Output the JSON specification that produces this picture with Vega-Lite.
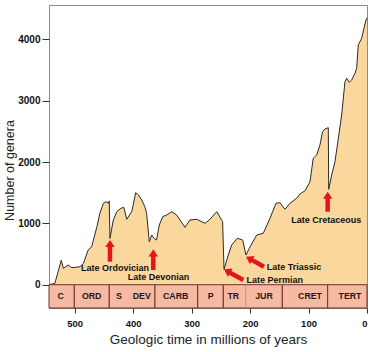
{
  "$schema": "https://vega.github.io/schema/vega-lite/v6.json",
  "width": 318,
  "height": 303,
  "autosize": {"type": "none"},
  "padding": {"left": 49, "top": 5, "right": 3, "bottom": 44},
  "background": "white",
  "config": {"view": {"stroke": "#8c8c8c", "strokeWidth": 1}, "font": "Liberation Sans"},
  "datasets": {
    "genera": [
      {"age": 544, "genera": 0}, {"age": 534, "genera": 20}, {"age": 523, "genera": 400},
      {"age": 519.5, "genera": 267}, {"age": 511, "genera": 321}, {"age": 505, "genera": 277},
      {"age": 498, "genera": 284}, {"age": 491, "genera": 293}, {"age": 485, "genera": 349},
      {"age": 477, "genera": 566}, {"age": 471, "genera": 620}, {"age": 462, "genera": 946},
      {"age": 457, "genera": 1164}, {"age": 451, "genera": 1327}, {"age": 446.5, "genera": 1353},
      {"age": 442.6, "genera": 1327}, {"age": 441, "genera": 1365}, {"age": 439.7, "genera": 756},
      {"age": 434, "genera": 1055}, {"age": 428, "genera": 1190}, {"age": 421, "genera": 1245},
      {"age": 416, "genera": 1262}, {"age": 411, "genera": 1066}, {"age": 402.5, "genera": 1190},
      {"age": 400, "genera": 1299}, {"age": 395.7, "genera": 1500}, {"age": 391, "genera": 1462},
      {"age": 385.4, "genera": 1381}, {"age": 380, "genera": 1272}, {"age": 377, "genera": 1164},
      {"age": 372.4, "genera": 701}, {"age": 368.3, "genera": 810}, {"age": 364.4, "genera": 756},
      {"age": 360, "genera": 729}, {"age": 355.3, "genera": 973}, {"age": 349.5, "genera": 1109},
      {"age": 342.7, "genera": 1136}, {"age": 334, "genera": 1190}, {"age": 325.6, "genera": 1136},
      {"age": 311.4, "genera": 936}, {"age": 302.8, "genera": 1055}, {"age": 291.3, "genera": 1066},
      {"age": 277.2, "genera": 1001}, {"age": 269.8, "genera": 1055}, {"age": 257, "genera": 1190},
      {"age": 247, "genera": 1027}, {"age": 244.6, "genera": 251}, {"age": 237.3, "genera": 484},
      {"age": 231.5, "genera": 647}, {"age": 222, "genera": 756}, {"age": 212.7, "genera": 729},
      {"age": 207, "genera": 484}, {"age": 201.4, "genera": 593}, {"age": 188.7, "genera": 810},
      {"age": 177.4, "genera": 838}, {"age": 166, "genera": 1082}, {"age": 155.7, "genera": 1327},
      {"age": 149, "genera": 1337}, {"age": 140.3, "genera": 1229}, {"age": 131.8, "genera": 1327},
      {"age": 120.3, "genera": 1409}, {"age": 114.6, "genera": 1479}, {"age": 106, "genera": 1532},
      {"age": 97.5, "genera": 1680}, {"age": 92, "genera": 2061}, {"age": 86, "genera": 2114},
      {"age": 80.5, "genera": 2277}, {"age": 76, "genera": 2494}, {"age": 72, "genera": 2538},
      {"age": 66.2, "genera": 2560}, {"age": 65.5, "genera": 1555}, {"age": 60.4, "genera": 1788},
      {"age": 54.8, "genera": 2005}, {"age": 49, "genera": 2387}, {"age": 43.4, "genera": 2767},
      {"age": 37.7, "genera": 3309}, {"age": 34.8, "genera": 3365}, {"age": 30.3, "genera": 3300},
      {"age": 26.2, "genera": 3337}, {"age": 20.6, "genera": 3446}, {"age": 17.7, "genera": 3528},
      {"age": 14.9, "genera": 3908}, {"age": 9.1, "genera": 4017}, {"age": 5.2, "genera": 4180},
      {"age": 1.7, "genera": 4315}, {"age": 0, "genera": 4350}
    ],
    "periods": [
      {"age": 544, "age2": 500.7}, {"age": 500.7, "age2": 440.9}, {"age": 440.9, "age2": 362.7},
      {"age": 362.7, "age2": 289.6}, {"age": 289.6, "age2": 245.8}, {"age": 245.8, "age2": 144.9},
      {"age": 144.9, "age2": 67.3}, {"age": 67.3, "age2": 0}
    ],
    "periodLabels": [
      {"label": "C", "age": 524}, {"label": "ORD", "age": 471}, {"label": "S", "age": 424.3},
      {"label": "DEV", "age": 385.4}, {"label": "CARB", "age": 327.3}, {"label": "P", "age": 267.4},
      {"label": "TR", "age": 228.7}, {"label": "JUR", "age": 176.2}, {"label": "CRET", "age": 97.5},
      {"label": "TERT", "age": 29.1}
    ],
    "shafts": [
      {"event": "Late Ordovician", "age": 439.7, "genera": 628, "age2": 439.7, "genera2": 375},
      {"event": "Late Devonian", "age": 365.6, "genera": 479, "age2": 365.6, "genera2": 240},
      {"event": "Late Cretaceous", "age": 67.3, "genera": 1418, "age2": 67.3, "genera2": 1190},
      {"event": "Late Permian", "age": 235.8, "genera": 204, "age2": 211.6, "genera2": 77},
      {"event": "Late Triassic", "age": 198.1, "genera": 409, "age2": 176.2, "genera2": 293}
    ],
    "heads": [
      {"event": "Late Ordovician", "dir": "up", "age": 439.7, "genera": 729},
      {"event": "Late Devonian", "dir": "up", "age": 365.6, "genera": 577},
      {"event": "Late Cretaceous", "dir": "up", "age": 67.3, "genera": 1516},
      {"event": "Late Permian", "dir": "up-left", "age": 244.6, "genera": 251},
      {"event": "Late Triassic", "dir": "up-left", "age": 207.0, "genera": 456}
    ],
    "notes": [
      {"label": "Late Ordovician", "age": 431, "genera": 277},
      {"label": "Late Devonian", "age": 356.7, "genera": 121},
      {"label": "Late Triassic", "age": 124.9, "genera": 293},
      {"label": "Late Permian", "age": 157.9, "genera": 82},
      {"label": "Late Cretaceous", "age": 69.7, "genera": 1055}
    ]
  },
  "encoding": {
    "x": {
      "field": "age", "type": "quantitative",
      "title": "Geologic time in millions of years",
      "scale": {"domain": [0, 544], "reverse": true, "nice": false, "zero": false},
      "axis": {
        "values": [0, 100, 200, 300, 400, 500], "format": "d", "grid": false, "domain": false,
        "tickSize": 5, "tickColor": "#333", "labelFont": "Liberation Sans", "labelFontWeight": "bold",
        "labelFontSize": 9.5, "labelColor": "#111", "labelPadding": 5,
        "titleFont": "Liberation Sans", "titleFontWeight": "normal", "titleFontSize": 13.5,
        "titleColor": "#222", "titlePadding": 5
      }
    }
  },
  "layer": [
    {
      "data": {"name": "genera"},
      "mark": {"type": "area", "color": "#F9D79D", "opacity": 1, "line": {"color": "#2a2a2a", "strokeWidth": 1}},
      "encoding": {
        "y": {
          "field": "genera", "type": "quantitative",
          "title": "Number of genera",
          "scale": {"domain": [-380, 4560], "nice": false, "zero": false},
          "axis": {
            "values": [0, 500, 1000, 1500, 2000, 2500, 3000, 3500, 4000, 4500], "format": "d",
            "labelExpr": "datum.value % 1000 == 0 ? datum.label : ''",
            "grid": false, "domain": false, "tickSize": 7, "tickColor": "#333",
            "labelFont": "Liberation Sans", "labelFontWeight": "bold", "labelFontSize": 10,
            "labelColor": "#111", "labelPadding": 2,
            "titleFont": "Liberation Sans", "titleFontWeight": "normal", "titleFontSize": 12.5,
            "titleColor": "#222", "titleX": -36, "titleY": 165, "titleBaseline": "alphabetic"
          }
        },
        "y2": {"datum": 0}
      }
    },
    {
      "data": {"name": "periods"},
      "mark": {"type": "rect", "fill": "#F6B9A2", "stroke": "#6e3328", "strokeWidth": 1},
      "encoding": {
        "x2": {"field": "age2"},
        "y": {"datum": 0, "type": "quantitative", "title": "Number of genera", "scale": {"domain": [-380, 4560], "nice": false, "zero": false}},
        "y2": {"datum": -380}
      }
    },
    {
      "data": {"values": [{"age": 207.5}]},
      "mark": {"type": "rule", "color": "#c8907e", "strokeWidth": 1},
      "encoding": {
        "y": {"datum": -2, "type": "quantitative", "title": "Number of genera", "scale": {"domain": [-380, 4560], "nice": false, "zero": false}},
        "y2": {"datum": -378}
      }
    },
    {
      "data": {"name": "periodLabels"},
      "mark": {"type": "text", "font": "Liberation Sans", "fontWeight": "bold", "fontSize": 8.8, "color": "#1a1a1a", "baseline": "middle", "align": "center"},
      "encoding": {
        "y": {"datum": -189, "type": "quantitative", "title": "Number of genera", "scale": {"domain": [-380, 4560], "nice": false, "zero": false}},
        "text": {"field": "label"}
      }
    },
    {
      "data": {"name": "shafts"},
      "mark": {"type": "rule", "color": "#E3161C", "strokeWidth": 4.5, "strokeCap": "butt"},
      "encoding": {
        "y": {"field": "genera", "type": "quantitative", "title": "Number of genera", "scale": {"domain": [-380, 4560], "nice": false, "zero": false}},
        "x2": {"field": "age2"},
        "y2": {"field": "genera2"}
      }
    },
    {
      "data": {"name": "heads"},
      "transform": [{"filter": "datum.dir == 'up'"}],
      "mark": {"type": "point", "shape": "M0,0L1,1.5L-1,1.5Z", "filled": true, "color": "#E3161C", "opacity": 1, "size": 90, "angle": 0},
      "encoding": {
        "y": {"field": "genera", "type": "quantitative", "title": "Number of genera", "scale": {"domain": [-380, 4560], "nice": false, "zero": false}}
      }
    },
    {
      "data": {"name": "heads"},
      "transform": [{"filter": "datum.dir == 'up-left'"}],
      "mark": {"type": "point", "shape": "M0,0L1,1.5L-1,1.5Z", "filled": true, "color": "#E3161C", "opacity": 1, "size": 90, "angle": 299},
      "encoding": {
        "y": {"field": "genera", "type": "quantitative", "title": "Number of genera", "scale": {"domain": [-380, 4560], "nice": false, "zero": false}}
      }
    },
    {
      "data": {"name": "notes"},
      "mark": {"type": "text", "font": "Liberation Sans", "fontWeight": "bold", "fontSize": 9, "color": "#111", "baseline": "middle", "align": "center"},
      "encoding": {
        "y": {"field": "genera", "type": "quantitative", "title": "Number of genera", "scale": {"domain": [-380, 4560], "nice": false, "zero": false}},
        "text": {"field": "label"}
      }
    }
  ]
}
